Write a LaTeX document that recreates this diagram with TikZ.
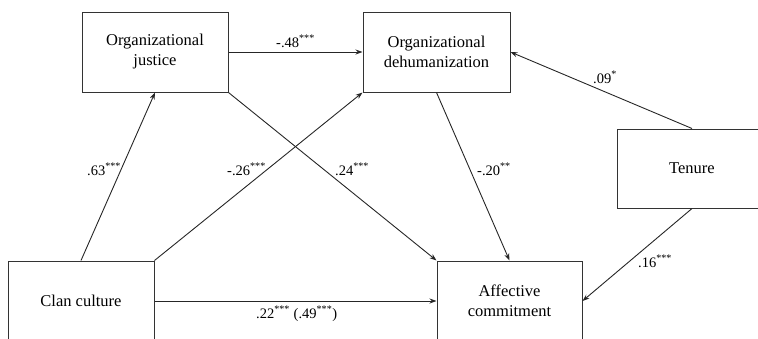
\documentclass[tikz,border=0pt]{standalone}
\usepackage{fontspec}
\setmainfont{Liberation Serif}
\usetikzlibrary{arrows.meta}
\begin{document}
\begin{tikzpicture}[x=1pt,y=-1pt,
  box/.style={draw=black!80,line width=1pt,inner sep=0pt,align=center,
    font=\fontsize{16.5}{20}\selectfont,minimum height=80pt},
  lab/.style={inner sep=0pt,anchor=base west,font=\fontsize{14.5}{17}\selectfont},
  arr/.style={draw=black!85,line width=0.9pt,-{Stealth[length=7pt,width=5pt]}}]
\useasboundingbox (0,0) rectangle (758,338);
\clip (0,0) rectangle (758,338);
\node[box,minimum width=146pt] (oj) at (155,52) {Organizational\\justice};
\node[box,minimum width=147pt] (od) at (436.5,52) {Organizational\\dehumanization};
\node[box,minimum width=150pt,minimum height=79pt] (ten) at (692,168.5) {Tenure};
\node[box,minimum width=146pt] (cc) at (81,301) {Clan culture};
\node[box,minimum width=145pt] (ac) at (509.5,301) {Affective\\commitment};
\draw[arr] (cc.north) -- (oj.south);
\draw[arr] (cc.north east) -- (od.south west);
\draw[arr] (oj.south east) -- (ac.north west);
\draw[arr] (oj.east) -- (od.west);
\draw[arr] (od.south) -- (ac.north);
\draw[arr] (ten.north) -- (od.east);
\draw[arr] (ten.south) -- (ac.east);
\draw[arr] (cc.east) -- (ac.west);
\node[lab] (l1) at (276,47) {-.48\textsuperscript{***}};
\node[lab] (l2) at (87,175) {.63\textsuperscript{***}};
\node[lab] (l3) at (227,175) {-.26\textsuperscript{***}};
\node[lab] (l4) at (335,175) {.24\textsuperscript{***}};
\node[lab] (l5) at (477,175) {-.20\textsuperscript{**}};
\node[lab] (l6) at (593,83) {.09\textsuperscript{*}};
\node[lab] (l7) at (638,267) {.16\textsuperscript{***}};
\node[lab] (l8) at (256,318) {.22\textsuperscript{***} (.49\textsuperscript{***})};
\end{tikzpicture}
\end{document}
